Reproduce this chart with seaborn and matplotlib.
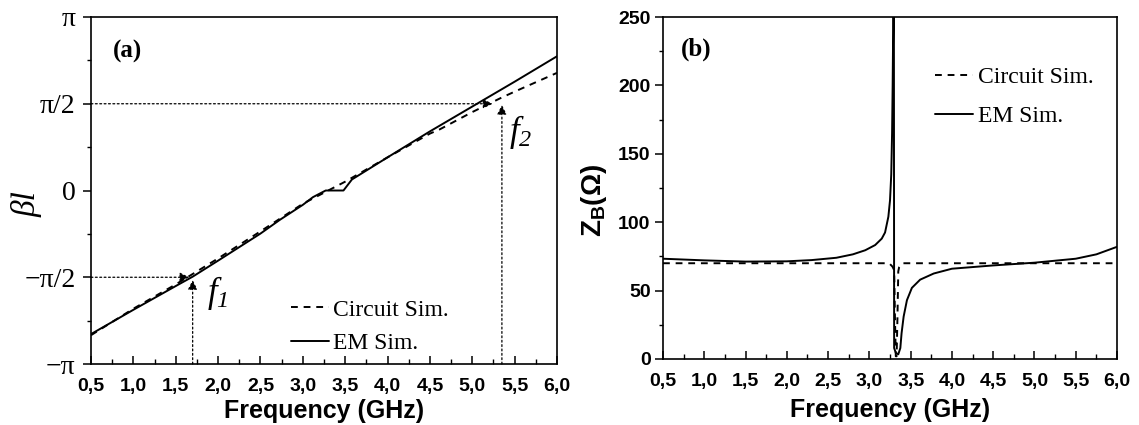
import numpy as np
import pandas as pd
import matplotlib
matplotlib.use('Agg')
import matplotlib.pyplot as plt
from matplotlib.ticker import MultipleLocator, FuncFormatter, FixedLocator
import seaborn as sns

# (a) dispersion, beta*l in rad
freq_a_circ = [0.5, 1.0, 1.5, 2.0, 2.5, 3.0, 3.3, 3.5, 4.0, 4.5, 4.62, 5.0, 5.33, 5.5, 6.0]
beta_a_circ = [-2.62, -2.14, -1.70, -1.23, -0.74, -0.24, 0.0, 0.16, 0.60, 1.03, 1.11, 1.42, 1.67, 1.79, 2.13]
freq_a_em = [0.5, 1.0, 1.5, 1.7, 2.0, 2.5, 2.73, 3.0, 3.12, 3.27, 3.48, 3.58, 4.0, 4.5, 5.0, 5.5, 6.0]
beta_a_em = [-2.60, -2.16, -1.73, -1.56, -1.27, -0.78, -0.53, -0.26, -0.12, 0.0, 0.0, 0.20, 0.60, 1.07, 1.52, 1.97, 2.43]

# (b) Bloch impedance, Ohm
freq_b_circ = [0.5, 3.0, 3.24, 3.28, 3.30, 3.31, 3.32, 3.33, 3.34, 3.35, 3.36, 3.40, 3.6, 6.0]
zb_circ = [70, 70, 70, 67.5, 65, 30, 2, 2, 30, 64, 67, 70, 70, 70]
freq_b_em = [0.5, 1.0, 1.5, 2.0, 2.3, 2.6, 2.8, 2.95, 3.07, 3.15, 3.19, 3.23, 3.25, 3.265,
             3.275, 3.282, 3.288, 3.292, 3.296, 3.30, 3.32, 3.35, 3.375, 3.39, 3.415,
             3.455, 3.515, 3.615, 3.78, 4.0, 4.5, 5.0, 5.5, 5.75, 6.0]
zb_em = [73.3, 72.1, 71.2, 71.4, 72.3, 74.0, 76.5, 79.5, 83.3, 88.0, 92.5, 104, 116, 135,
         165, 200, 240, 320, 320, 8.0, 4.5, 3.4, 8.0, 18.8, 31.0,
         43.0, 52.0, 58.0, 62.5, 66.0, 68.4, 70.4, 73.3, 76.5, 82.0]

# f1 / f2 markers
f1, f1_tip_x, f1_tip_y = 1.7, 1.66, -1.62
f2, f2_tip_x, f2_tip_y = 5.35, 5.24, 1.55

series_labels = ['Circuit Sim.', 'EM Sim.']
pi_ticks = [-np.pi, -np.pi / 2, 0, np.pi / 2, np.pi]
pi_labels = ['\u2212\u03c0', '\u2212\u03c0/2', '0', '\u03c0/2', '\u03c0']

sns.set_style('ticks')
plt.rcParams['font.family'] = ['Liberation Sans', 'DejaVu Sans']
plt.rcParams['mathtext.fontset'] = 'custom'
plt.rcParams['mathtext.it'] = 'Liberation Serif:italic'
plt.rcParams['mathtext.rm'] = 'Liberation Serif:italic'
plt.rcParams['mathtext.bf'] = 'Liberation Sans:bold'
for k in ['text.color', 'axes.labelcolor', 'xtick.color', 'ytick.color', 'axes.edgecolor']:
    plt.rcParams[k] = 'black'

fig = plt.figure(figsize=(11.39, 4.25), dpi=100)
ax_a = fig.add_axes([0.0799, 0.1435, 0.4091, 0.8165])
ax_b = fig.add_axes([0.5821, 0.1553, 0.3986, 0.8047])

df_a = pd.DataFrame({'f': freq_a_circ, 'v': beta_a_circ})
df_a2 = pd.DataFrame({'f': freq_a_em, 'v': beta_a_em})
df_b = pd.DataFrame({'f': freq_b_circ, 'v': zb_circ})
df_b2 = pd.DataFrame({'f': freq_b_em, 'v': zb_em})

for ax, dc, de in [(ax_a, df_a, df_a2), (ax_b, df_b, df_b2)]:
    sns.lineplot(data=dc, x='f', y='v', ax=ax, color='black', lw=1.4,
                 label=series_labels[0], estimator=None)
    ax.lines[-1].set_dashes([3.5, 3])
    sns.lineplot(data=de, x='f', y='v', ax=ax, color='black', lw=1.4,
                 label=series_labels[1], estimator=None)

    ax.set_xlim(0.5, 6.0)
    ax.xaxis.set_major_locator(MultipleLocator(0.5))
    ax.xaxis.set_minor_locator(MultipleLocator(0.25))
    ax.xaxis.set_major_formatter(FuncFormatter(lambda v, p: f'{v:.1f}'.replace('.', ',')))
    ax.tick_params(axis='x', which='major', direction='in', length=6, width=1.1,
                   labelsize=14, pad=10)
    ax.tick_params(axis='x', which='minor', direction='in', length=3.5, width=1.0)
    ax.tick_params(axis='y', which='major', direction='out', length=6, width=1.1)
    ax.tick_params(axis='y', which='minor', direction='out', length=3, width=1.0)
    for lab in ax.get_xticklabels():
        lab.set_fontweight('bold')
    for s in ax.spines.values():
        s.set_linewidth(1.2)
    ax.grid(False)

ax_a.set_xlabel('Frequency (GHz)', fontsize=18, fontweight='bold', labelpad=3)
ax_b.set_xlabel('Frequency (GHz)', fontsize=18, fontweight='bold', labelpad=6)

# panel (a)
ax_a.set_ylim(-np.pi, np.pi)
ax_a.yaxis.set_major_locator(FixedLocator(pi_ticks))
ax_a.yaxis.set_minor_locator(MultipleLocator(np.pi / 4))
ax_a.set_yticklabels(pi_labels, family='Liberation Serif', fontsize=20)
ax_a.tick_params(axis='y', which='major', pad=5)
ax_a.set_ylabel('\u03b2l', family='Liberation Serif', style='italic', fontsize=24)
ax_a.yaxis.set_label_coords(-0.105, 0.46)

dot = (0, (1.5, 2))
arrow_kw = dict(arrowstyle='-|>', color='black', lw=0.9, ls=dot,
                mutation_scale=14, shrinkA=0, shrinkB=0)
ax_a.annotate('', xy=(f1_tip_x, -np.pi / 2), xytext=(0.5, -np.pi / 2), arrowprops=arrow_kw)
ax_a.annotate('', xy=(f1, f1_tip_y), xytext=(f1, -np.pi), arrowprops=arrow_kw)
ax_a.annotate('', xy=(f2_tip_x, np.pi / 2), xytext=(0.5, np.pi / 2), arrowprops=arrow_kw)
ax_a.annotate('', xy=(f2, f2_tip_y), xytext=(f2, -np.pi), arrowprops=arrow_kw)
ax_a.text(1.87, -2.02, r'$f_{1}$', fontsize=25, ha='left', va='baseline')
ax_a.text(5.43, 0.90, r'$f_{2}$', fontsize=25, ha='left', va='baseline')
ax_a.text(0.047, 0.902, '(a)', transform=ax_a.transAxes, family='Liberation Serif',
          fontweight='bold', fontsize=18, ha='left', va='center')
ax_a.legend(loc='center left', bbox_to_anchor=(0.429, 0.108), frameon=False,
            prop={'family': 'Liberation Serif', 'size': 17}, handlelength=1.6,
            handletextpad=0.2, labelspacing=0.5, borderpad=0, borderaxespad=0)

# panel (b)
ax_b.set_ylim(0, 250)
ax_b.yaxis.set_major_locator(MultipleLocator(50))
ax_b.yaxis.set_minor_locator(MultipleLocator(25))
ax_b.tick_params(axis='y', which='major', labelsize=14, pad=3)
for lab in ax_b.get_yticklabels():
    lab.set_fontweight('bold')
ax_b.set_ylabel(r'$\mathbf{Z_B(\Omega)}$', fontsize=20)
ax_b.yaxis.set_label_coords(-0.12, 0.465)
ax_b.text(0.04, 0.906, '(b)', transform=ax_b.transAxes, family='Liberation Serif',
          fontweight='bold', fontsize=18, ha='left', va='center')
ax_b.legend(loc='center left', bbox_to_anchor=(0.600, 0.766), frameon=False,
            prop={'family': 'Liberation Serif', 'size': 17}, handlelength=1.6,
            handletextpad=0.2, labelspacing=0.75, borderpad=0, borderaxespad=0)

fig.savefig('out.png', dpi=100)
